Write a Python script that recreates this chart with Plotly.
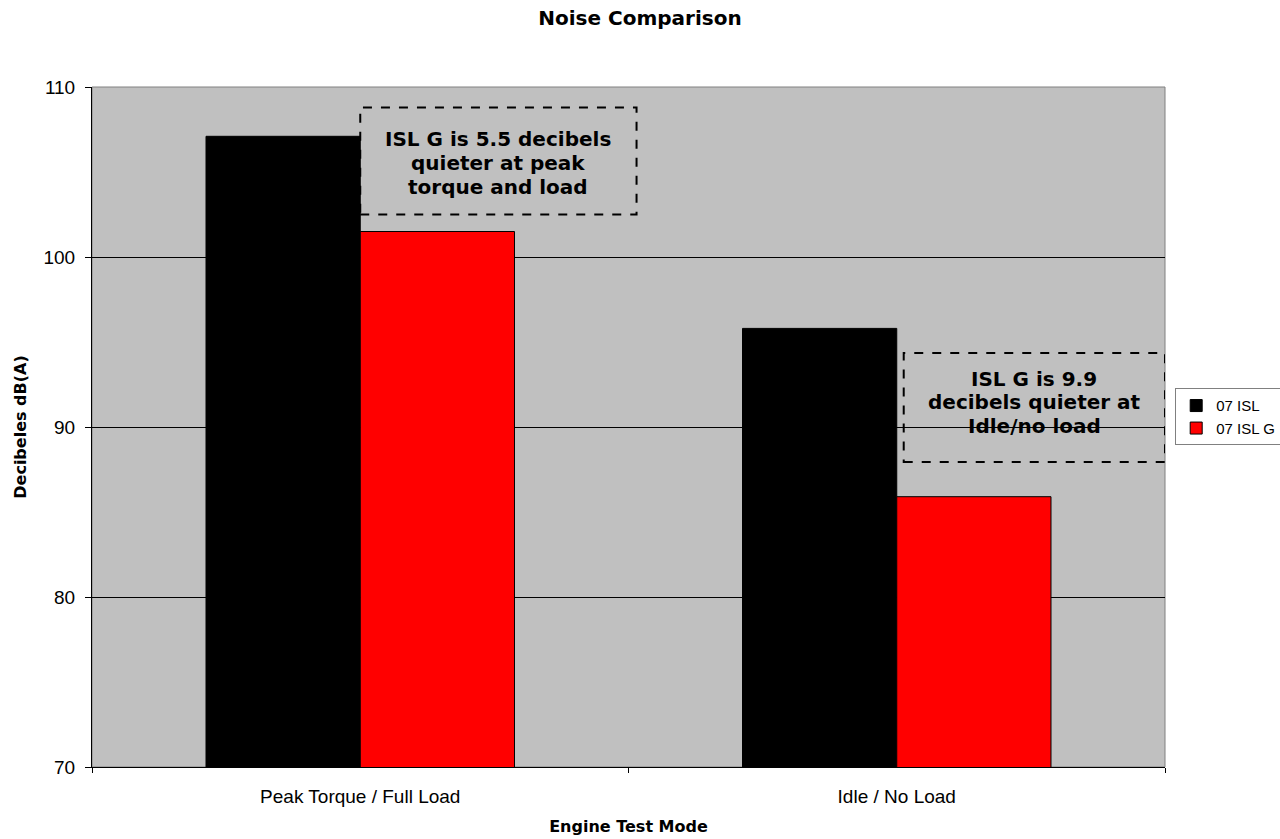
import plotly.graph_objects as go

categories = ["Peak Torque / Full Load", "Idle / No Load"]
isl_values = [107.1, 95.8]
islg_values = [101.5, 85.9]
series_names = ["07 ISL", "07 ISL G"]
y_ticks = [70, 80, 90, 100, 110]
note1_lines = ["ISL G is 5.5 decibels", "quieter at peak", "torque and load"]
note2_lines = ["ISL G is 9.9", "decibels quieter at", "Idle/no load"]

fig = go.Figure()
fig.add_trace(go.Bar(x=categories, y=isl_values, name=series_names[0],
                     marker=dict(color="#000000", line=dict(color="#000000", width=1))))
fig.add_trace(go.Bar(x=categories, y=islg_values, name=series_names[1],
                     marker=dict(color="#FF0000", line=dict(color="#000000", width=1))))

TICK_FONT = "Liberation Sans, Arial, sans-serif"
BOLD_FONT = "DejaVu Sans, Verdana, sans-serif"

fig.update_layout(
    width=1280, height=839,
    margin=dict(l=92, r=115, t=87, b=72, autoexpand=False),
    paper_bgcolor="white",
    plot_bgcolor="#C0C0C0",
    barmode="group",
    bargap=0.425,
    bargroupgap=0,
    title=dict(text="<b>Noise Comparison</b>", x=0.5, xanchor="center", y=1 - 18 / 839,
               yanchor="middle", font=dict(family=BOLD_FONT, size=20, color="black")),
    font=dict(family=TICK_FONT, size=17, color="black"),
    legend=dict(x=1.0095, y=0.515, xanchor="left", yanchor="middle",
                bordercolor="#808080", borderwidth=1, bgcolor="white",
                font=dict(family=TICK_FONT, size=15), itemwidth=30, tracegroupgap=0),
    showlegend=True,
)

fig.update_xaxes(
    type="category", showgrid=False, showline=True, linecolor="black", linewidth=1,
    ticks="outside", tickson="boundaries", ticklen=5, tickcolor="black",
    mirror=False, range=[-0.5, 1.5],
    tickfont=dict(family=TICK_FONT, size=19),
    ticklabelstandoff=12,
    title=dict(text="<b>Engine Test Mode</b>", standoff=15,
               font=dict(family=BOLD_FONT, size=16)),
)
fig.update_yaxes(
    range=[70, 110], tickvals=y_ticks, showgrid=True, gridcolor="#000000", gridwidth=1,
    showline=True, linecolor="black", linewidth=1, ticks="outside", ticklen=6,
    tickcolor="black", zeroline=False,
    tickfont=dict(family=TICK_FONT, size=19),
    ticklabelstandoff=6,
    title=dict(text="<b>Decibeles dB(A)</b>", standoff=12,
               font=dict(family=BOLD_FONT, size=16)),
)

# plot area border
fig.add_shape(type="rect", xref="paper", yref="paper", x0=0, x1=1, y0=0, y1=1,
              line=dict(color="#808080", width=1), layer="below")

# dashed annotation boxes
fig.add_shape(type="rect", xref="x", yref="y", x0=0.0, x1=0.515, y0=102.5, y1=108.8,
              line=dict(color="black", width=2, dash="dash"), fillcolor="rgba(0,0,0,0)")
fig.add_shape(type="rect", xref="x", yref="y", x0=1.013, x1=1.5, y0=87.94, y1=94.35,
              line=dict(color="black", width=2, dash="dash"), fillcolor="rgba(0,0,0,0)")

# annotation text, one line each (line centres in data units)
box1_cx, box1_lines_y = 0.2575, [106.95, 105.55, 104.1]
box2_cx, box2_lines_y = 1.2565, [92.85, 91.45, 90.05]
for txt, yy in zip(note1_lines, box1_lines_y):
    fig.add_annotation(x=box1_cx, y=yy, xref="x", yref="y", text="<b>" + txt + "</b>",
                       showarrow=False, font=dict(family=BOLD_FONT, size=20, color="black"))
for txt, yy in zip(note2_lines, box2_lines_y):
    fig.add_annotation(x=box2_cx, y=yy, xref="x", yref="y", text="<b>" + txt + "</b>",
                       showarrow=False, font=dict(family=BOLD_FONT, size=20, color="black"))

fig.write_html("out.html")
